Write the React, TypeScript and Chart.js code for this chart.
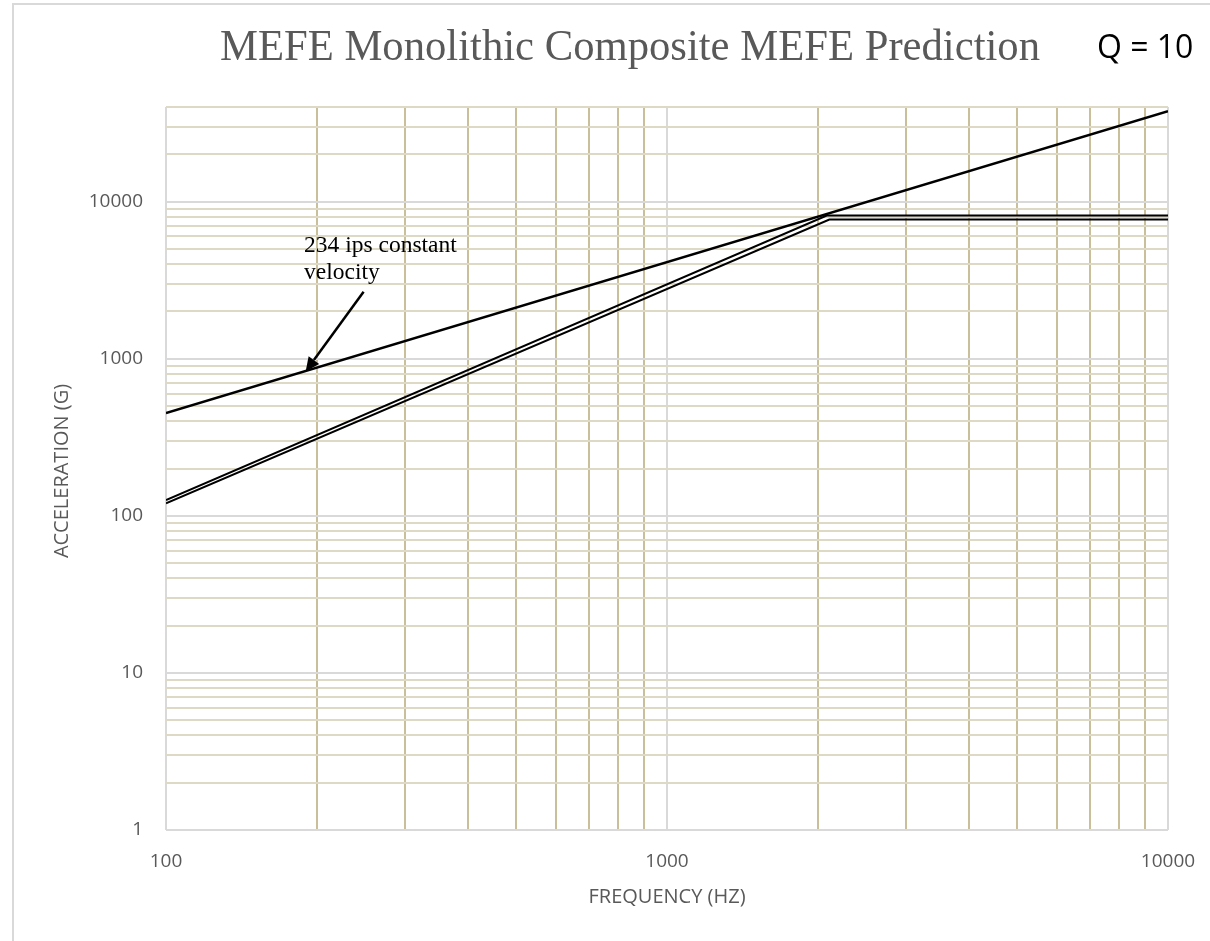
import React, { useEffect, useRef } from "react";
import { Chart, registerables } from "chart.js";

Chart.register(...registerables);

const TITLE = "MEFE Monolithic Composite MEFE Prediction";
const Q_LABEL = "Q = 10";
const X_TITLE = "FREQUENCY (HZ)";
const Y_TITLE = "ACCELERATION (G)";
const NOTE_LINES = ["234 ips constant", "velocity"];

// Series (frequency in Hz, acceleration in G)
const VELOCITY_FREQ = [100, 10000];
const VELOCITY_G = [450, 37600];
const UPPER_FREQ = [100, 2084, 10000];
const UPPER_G = [126, 8150, 8150];
const LOWER_FREQ = [100, 2109, 10000];
const LOWER_G = [120, 7680, 7680];

// Ticks
const X_TICKS = [100, 200, 300, 400, 500, 600, 700, 800, 900, 1000, 2000, 3000, 4000, 5000, 6000, 7000, 8000, 9000, 10000];
const Y_TICKS = [
  1, 2, 3, 4, 5, 6, 7, 8, 9,
  10, 20, 30, 40, 50, 60, 70, 80, 90,
  100, 200, 300, 400, 500, 600, 700, 800, 900,
  1000, 2000, 3000, 4000, 5000, 6000, 7000, 8000, 9000,
  10000, 20000, 30000, 40000,
];
const X_LABELED = [100, 1000, 10000];
const Y_LABELED = [1, 10, 100, 1000, 10000];

// Annotation anchors (data coordinates)
const NOTE_POS = [188.6, 4810];
const ARROW_FROM = [248, 2670];
const ARROW_TO = [190, 830];

const MAJOR_GRID = "#d9d9d9";
const X_MINOR_GRID = "#c9c09b";
const Y_MINOR_GRID = "#ddd9c4";
const TEXT_GREY = "#595959";

const isDecade = (v: number) => Math.abs(Math.log10(v) - Math.round(Math.log10(v))) < 1e-9;

const toPoints = (xs: number[], ys: number[]) => xs.map((x, i) => ({ x, y: ys[i] }));

const textPlugin = {
  id: "textPlugin",
  afterDraw(chart: any) {
    const ctx = chart.ctx as CanvasRenderingContext2D;
    const xs = chart.scales.x;
    const ys = chart.scales.y;
    const area = chart.chartArea;
    ctx.save();

    // Title
    ctx.fillStyle = TEXT_GREY;
    ctx.font = '45px "Liberation Serif"';
    ctx.textAlign = "left";
    ctx.textBaseline = "alphabetic";
    ctx.fillText(TITLE, 220, 60, 820);

    // Q label
    ctx.fillStyle = "#000000";
    ctx.font = '32px "Open Sans"';
    ctx.fillText(Q_LABEL, 1097, 58, 98);

    // Axis titles
    ctx.fillStyle = TEXT_GREY;
    ctx.font = '20px "Open Sans"';
    ctx.textAlign = "center";
    ctx.textBaseline = "middle";
    ctx.fillText(X_TITLE, (area.left + area.right) / 2, 897, 164);
    ctx.save();
    ctx.translate(62, 471);
    ctx.rotate(-Math.PI / 2);
    ctx.fillText(Y_TITLE, 0, 0, 182);
    ctx.restore();

    // Annotation text
    ctx.fillStyle = "#000000";
    ctx.font = '23.5px "Liberation Serif"';
    ctx.textAlign = "left";
    ctx.textBaseline = "alphabetic";
    const tx = xs.getPixelForValue(NOTE_POS[0]);
    const ty = ys.getPixelForValue(NOTE_POS[1]);
    NOTE_LINES.forEach((line, i) => ctx.fillText(line, tx, ty + i * 27));

    // Arrow
    const x1 = xs.getPixelForValue(ARROW_FROM[0]);
    const y1 = ys.getPixelForValue(ARROW_FROM[1]);
    const x2 = xs.getPixelForValue(ARROW_TO[0]);
    const y2 = ys.getPixelForValue(ARROW_TO[1]);
    const ang = Math.atan2(y2 - y1, x2 - x1);
    const headLen = 14;
    const headHalf = 6.5;
    const bx = x2 - headLen * Math.cos(ang);
    const by = y2 - headLen * Math.sin(ang);
    ctx.strokeStyle = "#000000";
    ctx.lineWidth = 2.5;
    ctx.beginPath();
    ctx.moveTo(x1, y1);
    ctx.lineTo(bx, by);
    ctx.stroke();
    ctx.beginPath();
    ctx.moveTo(x2, y2);
    ctx.lineTo(bx + headHalf * Math.sin(ang), by - headHalf * Math.cos(ang));
    ctx.lineTo(bx - headHalf * Math.sin(ang), by + headHalf * Math.cos(ang));
    ctx.closePath();
    ctx.fillStyle = "#000000";
    ctx.fill();

    ctx.restore();
  },
};

export default function App() {
  const canvasRef = useRef<HTMLCanvasElement | null>(null);

  useEffect(() => {
    const canvas = canvasRef.current;
    if (!canvas) return;
    const chart = new Chart(canvas, {
      type: "scatter",
      data: {
        datasets: [
          {
            data: toPoints(VELOCITY_FREQ, VELOCITY_G),
            showLine: true,
            borderColor: "#000000",
            borderWidth: 2.5,
            pointRadius: 0,
          },
          {
            data: toPoints(UPPER_FREQ, UPPER_G),
            showLine: true,
            borderColor: "#000000",
            borderWidth: 2,
            pointRadius: 0,
          },
          {
            data: toPoints(LOWER_FREQ, LOWER_G),
            showLine: true,
            borderColor: "#000000",
            borderWidth: 2,
            pointRadius: 0,
          },
        ],
      },
      options: {
        responsive: false,
        animation: false,
        devicePixelRatio: 1,
        layout: { padding: { left: 0, right: 42, top: 107, bottom: 0 } },
        plugins: {
          legend: { display: false },
          tooltip: { enabled: false },
          title: { display: false },
        },
        scales: {
          x: {
            type: "logarithmic",
            position: "bottom",
            min: 100,
            max: 10000,
            afterBuildTicks: (scale: any) => {
              scale.ticks = X_TICKS.map((value) => ({ value }));
            },
            afterFit: (scale: any) => {
              scale.height = 111;
              scale.paddingLeft = 0;
              scale.paddingRight = 0;
            },
            ticks: {
              autoSkip: false,
              maxRotation: 0,
              padding: 20,
              color: TEXT_GREY,
              font: { family: "Open Sans", size: 19 },
              callback: (v: any) => (X_LABELED.includes(Number(v)) ? String(v) : ""),
            },
            grid: {
              drawTicks: false,
              lineWidth: 2,
              color: (c: any) => (c.tick && isDecade(c.tick.value) ? MAJOR_GRID : X_MINOR_GRID),
            },
            border: { display: false },
          },
          y: {
            type: "logarithmic",
            position: "left",
            min: 1,
            max: 40000,
            afterBuildTicks: (scale: any) => {
              scale.ticks = Y_TICKS.map((value) => ({ value }));
            },
            afterFit: (scale: any) => {
              scale.width = 166;
              scale.paddingTop = 0;
              scale.paddingBottom = 0;
            },
            ticks: {
              autoSkip: false,
              padding: 23,
              color: TEXT_GREY,
              font: { family: "Open Sans", size: 19 },
              callback: (v: any) => (Y_LABELED.includes(Number(v)) ? String(v) : ""),
            },
            grid: {
              drawTicks: false,
              lineWidth: 2,
              color: (c: any) => (c.tick && isDecade(c.tick.value) ? MAJOR_GRID : Y_MINOR_GRID),
            },
            border: { display: false },
          },
        },
      },
      plugins: [textPlugin],
    });
    return () => chart.destroy();
  }, []);

  return (
    <div
      style={{
        position: "fixed",
        left: 0,
        top: 0,
        width: 1210,
        height: 941,
        overflow: "hidden",
        background: "#ffffff",
      }}
    >
      <div
        style={{
          position: "absolute",
          left: 12,
          top: 3,
          width: 1400,
          height: 1200,
          borderLeft: "2px solid #d9d9d9",
          borderTop: "2px solid #d9d9d9",
        }}
      />
      <canvas
        ref={canvasRef}
        width={1210}
        height={941}
        style={{ position: "absolute", left: 0, top: 0, display: "block" }}
      />
    </div>
  );
}
